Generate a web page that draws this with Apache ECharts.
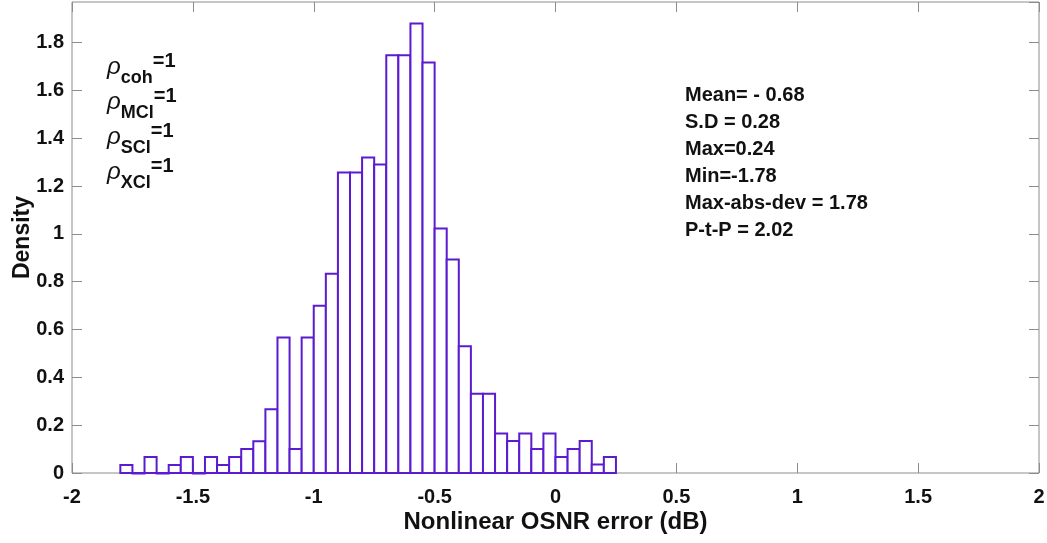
<!DOCTYPE html>
<html>
<head>
<meta charset="utf-8">
<script src="https://cdn.jsdelivr.net/npm/echarts@6/dist/echarts.min.js"></script>
<style>
  html, body { margin: 0; padding: 0; background: #fff; }
  #chart { width: 1047px; height: 543px; }
</style>
</head>
<body>
<div id="chart"></div>
<script>
// ---- data ----
const binStart = -1.8;
const binWidth = 0.05;
const densities = [0.033, 0, 0.067, 0, 0.033, 0.067, 0, 0.067, 0.033, 0.067,
  0.1, 0.133, 0.267, 0.567, 0.1, 0.567, 0.7, 0.833, 1.257, 1.257,
  1.32, 1.29, 1.747, 1.747, 1.88, 1.717, 1.023, 0.893, 0.53, 0.331,
  0.331, 0.165, 0.134, 0.165, 0.1, 0.165, 0.067, 0.1, 0.134, 0.036, 0.067];
const xTicks = [-2, -1.5, -1, -0.5, 0, 0.5, 1, 1.5, 2];
const yTicks = [0, 0.2, 0.4, 0.6, 0.8, 1, 1.2, 1.4, 1.6, 1.8];
const statsLines = ['Mean= - 0.68', 'S.D = 0.28', 'Max=0.24', 'Min=-1.78', 'Max-abs-dev = 1.78', 'P-t-P = 2.02'];
const rhoSubs = ['coh', 'MCl', 'SCl', 'XCl'];
const rhoValue = '=1';

// ---- build ----
const histData = densities.map((d, i) => [binStart + i * binWidth, binStart + (i + 1) * binWidth, d]);
const barColor = '#5b1bcf';
const frameColor = '#8c8c8c';
const font = 'Liberation Sans, Arial, sans-serif';

const chart = echarts.init(document.getElementById('chart'));

const tickStyle = { show: true, inside: true, length: 10, lineStyle: { color: frameColor, width: 1 } };
const hiddenLine = { show: false, onZero: false };

const graphics = [];
rhoSubs.forEach((s, i) => {
  graphics.push({
    type: 'text', left: 107, top: 48 + 35 * i,
    style: {
      text: '{r|ρ}{s|' + s + '}{e|' + rhoValue + '}',
      rich: {
        r: { fontFamily: font, fontStyle: 'italic', fontSize: 24, lineHeight: 39, verticalAlign: 'middle', fill: '#111' },
        s: { fontFamily: font, fontWeight: 'bold', fontSize: 18, lineHeight: 39, verticalAlign: 'bottom', fill: '#111' },
        e: { fontFamily: font, fontWeight: 'bold', fontSize: 20, lineHeight: 39, verticalAlign: 'top', padding: [3, 0, 0, 0], fill: '#111' }
      }
    }
  });
});
graphics.push({
  type: 'text', left: 685, top: 82,
  style: {
    text: statsLines.join('\n'),
    fontFamily: font, fontWeight: 'bold', fontSize: 20, lineHeight: 27, fill: '#111'
  }
});

chart.setOption({
  animation: false,
  backgroundColor: '#fff',
  grid: { left: 72, right: 8, top: 2, bottom: 70, show: true, borderColor: frameColor, borderWidth: 1, backgroundColor: '#fff', containLabel: false, outerBoundsMode: 'none' },
  xAxis: [
    {
      type: 'value', min: xTicks[0], max: xTicks[xTicks.length - 1], interval: 0.5, position: 'bottom',
      axisLine: hiddenLine, axisTick: tickStyle, splitLine: { show: false },
      axisLabel: { color: '#111', fontFamily: font, fontWeight: 'bold', fontSize: 20, margin: 14 },
      name: 'Nonlinear OSNR error (dB)', nameLocation: 'middle', nameGap: 37, nameMoveOverlap: false,
      nameTextStyle: { color: '#111', fontFamily: font, fontWeight: 'bold', fontSize: 24 }
    },
    {
      type: 'value', min: xTicks[0], max: xTicks[xTicks.length - 1], interval: 0.5, position: 'top',
      axisLine: hiddenLine, axisTick: tickStyle, splitLine: { show: false }, axisLabel: { show: false }
    }
  ],
  yAxis: [
    {
      type: 'value', min: yTicks[0], max: 1.97, interval: 0.2, position: 'left',
      axisLine: hiddenLine, axisTick: tickStyle, splitLine: { show: false },
      axisLabel: { color: '#111', fontFamily: font, fontWeight: 'bold', fontSize: 20, margin: 8, showMaxLabel: false },
      name: 'Density', nameLocation: 'middle', nameGap: 38, nameMoveOverlap: false,
      nameTextStyle: { color: '#111', fontFamily: font, fontWeight: 'bold', fontSize: 23 }
    },
    {
      type: 'value', min: yTicks[0], max: 1.97, interval: 0.2, position: 'right',
      axisLine: hiddenLine, axisTick: tickStyle, splitLine: { show: false }, axisLabel: { show: false }
    }
  ],
  series: [{
    type: 'custom',
    xAxisIndex: 0, yAxisIndex: 0,
    data: histData,
    encode: { x: [0, 1], y: 2 },
    renderItem: function (params, api) {
      const p0 = api.coord([api.value(0), api.value(2)]);
      const p1 = api.coord([api.value(1), 0]);
      return {
        type: 'rect',
        shape: { x: p0[0], y: p0[1], width: p1[0] - p0[0], height: Math.max(p1[1] - p0[1], 0.5) },
        style: { fill: '#fff', stroke: barColor, lineWidth: 2 }
      };
    }
  }],
  graphic: graphics
});
</script>
</body>
</html>
